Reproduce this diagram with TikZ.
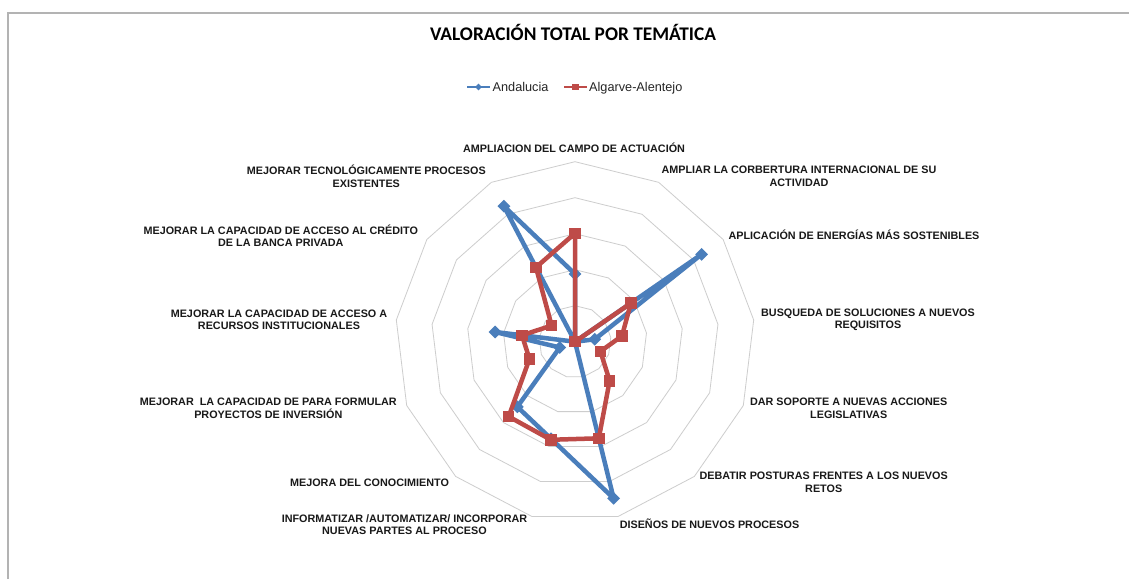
\documentclass[tikz,border=0pt]{standalone}
\usepackage{fontspec}
\setmainfont{Liberation Sans}
\newfontfamily\titlefont{Carlito}
\usetikzlibrary{shapes.geometric}
\definecolor{serblue}{HTML}{4A7EBB}
\definecolor{serred}{HTML}{BE4B48}
\definecolor{gridgray}{HTML}{CDCDCD}
\definecolor{framegray}{HTML}{B3B3B3}
\begin{document}
\begin{tikzpicture}[x=1pt,y=-1pt,
  gridline/.style={draw=gridgray, line width=0.8pt},
  frameline/.style={draw=framegray, line width=1.5pt},
  blueline/.style={draw=serblue, line width=4.5pt, line join=round},
  redline/.style={draw=serred, line width=4.5pt, line join=round},
  bmark/.style={fill=serblue, draw=none, diamond, minimum size=13pt, inner sep=0pt},
  rmark/.style={fill=serred, draw=none, rectangle, minimum size=11.5pt, inner sep=0pt},
  lab/.style={font=\bfseries\fontsize{10.8}{12.3}\selectfont, align=center, inner sep=0pt, text=black!90},
  legtext/.style={font=\fontsize{12.7}{14}\selectfont, inner sep=0pt, text=black!85}
]
\useasboundingbox (0,0) rectangle (1129,579);
\fill[white] (0,0) rectangle (1129,579);
\draw[frameline] (8,579) -- (8,13) -- (1129,13);

% title
\node[font=\titlefont\bfseries\fontsize{19.3}{22}\selectfont, anchor=base, inner sep=0pt] (title) at (573,40) {VALORACIÓN TOTAL POR TEMÁTICA};

% legend
\coordinate (lb1) at (467,87); \coordinate (lb2) at (490,87);
\draw[serblue, line width=2.6pt] (lb1) -- (lb2);
\node[bmark, minimum size=7pt] (lbm) at (478.5,87) {};
\node[legtext, anchor=base west] (lbt) at (492.5,91.7) {Andalucia};
\coordinate (lr1) at (564,87); \coordinate (lr2) at (587,87);
\draw[serred, line width=2.6pt] (lr1) -- (lr2);
\node[rmark, minimum size=6.5pt] (lrm) at (575.5,87) {};
\node[legtext, anchor=base west] (lrt) at (589,91.7) {Algarve-Alentejo};

% radar
\begin{scope}[shift={(575,341.7)}, yscale=-1]
  \foreach \r in {36,72,108,144,180}
    \draw[gridline] (90:\r) \foreach \i in {1,...,12}{ -- ({90-\i*360/13}:\r)} -- cycle;
  \foreach \v [count=\i from 0] in {67.7,0,153.8,19.9,0,0,161.3,100,87,16.3,80.5,0,153}
    \coordinate (b\i) at ({90-\i*360/13}:\v);
  \foreach \v [count=\i from 0] in {108.4,0,67.9,47.3,27.2,52.2,99.5,101,100,48.7,53.4,28.4,84}
    \coordinate (r\i) at ({90-\i*360/13}:\v);
\end{scope}

\draw[blueline] (b0) -- (b1) -- (b2) -- (b3) -- (b4) -- (b5) -- (b6) -- (b7) -- (b8) -- (b9) -- (b10) -- (b11) -- (b12) -- cycle;
\foreach \i in {0,...,12} \node[bmark] (bm\i) at (b\i) {};
\draw[redline] (r0) -- (r1) -- (r2) -- (r3) -- (r4) -- (r5) -- (r6) -- (r7) -- (r8) -- (r9) -- (r10) -- (r11) -- (r12) -- cycle;
\foreach \i in {0,...,12} \node[rmark] (rm\i) at (r\i) {};

% category labels
\node[lab] (l0) at (574,147.3) {AMPLIACION DEL CAMPO DE ACTUACIÓN};
\node[lab] (l1) at (799,176.2) {AMPLIAR LA CORBERTURA INTERNACIONAL DE SU\\ACTIVIDAD};
\node[lab] (l2) at (854,235) {APLICACIÓN DE ENERGÍAS MÁS SOSTENIBLES};
\node[lab] (l3) at (868,319.5) {BUSQUEDA DE SOLUCIONES A NUEVOS\\REQUISITOS};
\node[lab] (l4) at (848.7,408.3) {DAR SOPORTE A NUEVAS ACCIONES\\LEGISLATIVAS};
\node[lab] (l5) at (823.7,482.2) {DEBATIR POSTURAS FRENTES A LOS NUEVOS\\RETOS};
\node[lab] (l6) at (709.5,523.3) {DISEÑOS DE NUEVOS PROCESOS};
\node[lab] (l7) at (404.5,524.5) {INFORMATIZAR /AUTOMATIZAR/ INCORPORAR\\NUEVAS PARTES AL PROCESO};
\node[lab] (l8) at (369.5,482.3) {MEJORA DEL CONOCIMIENTO};
\node[lab] (l9) at (268.3,408.3) {MEJORAR\ \ LA CAPACIDAD DE PARA FORMULAR\\PROYECTOS DE INVERSIÓN};
\node[lab] (l10) at (279,319.5) {MEJORAR LA CAPACIDAD DE ACCESO A\\RECURSOS INSTITUCIONALES};
\node[lab] (l11) at (280.8,235.5) {MEJORAR LA CAPACIDAD DE ACCESO AL CRÉDITO\\DE LA BANCA PRIVADA};
\node[lab] (l12) at (366.3,176.2) {MEJORAR TECNOLÓGICAMENTE PROCESOS\\EXISTENTES};
\end{tikzpicture}
\end{document}
